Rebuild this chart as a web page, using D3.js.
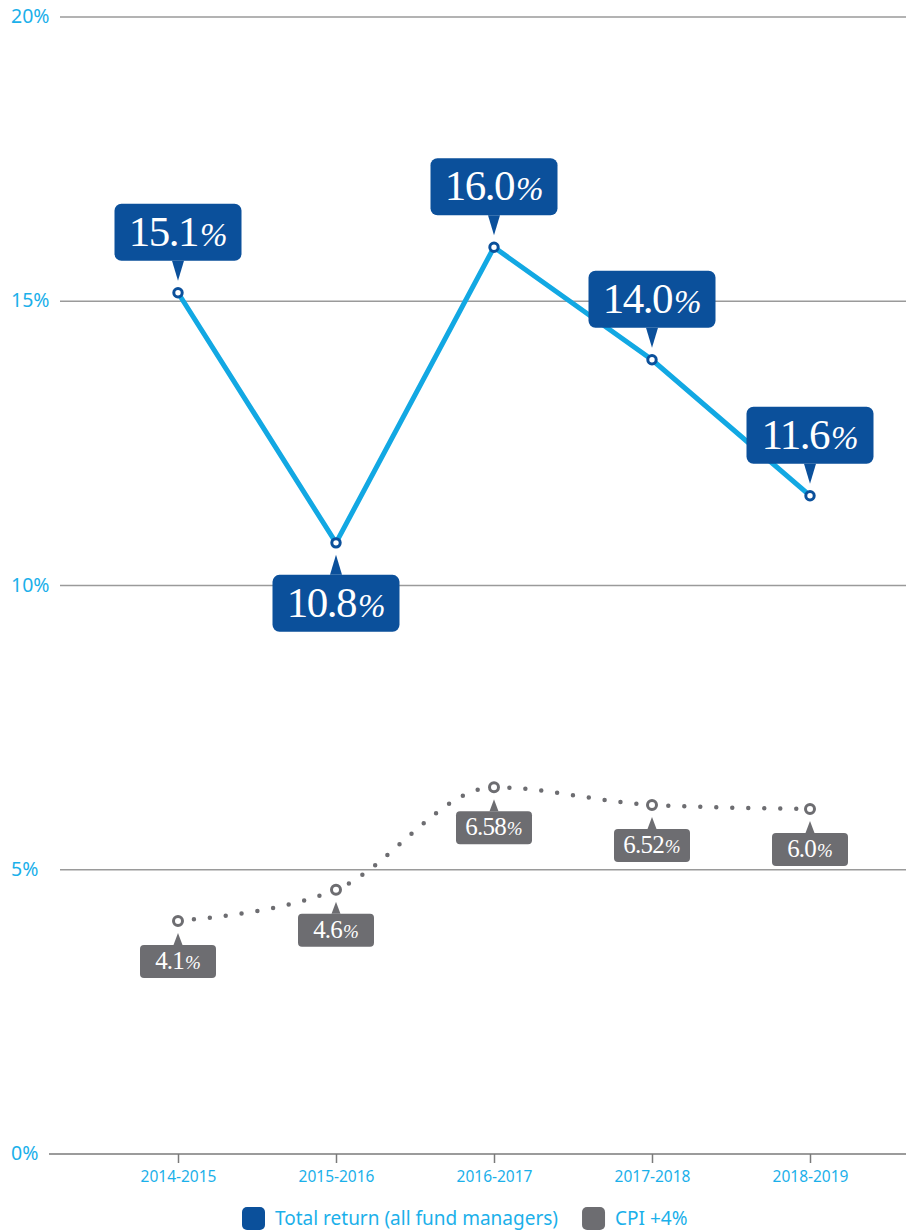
<!DOCTYPE html>
<html>
<head>
<meta charset="utf-8">
<script src="https://cdn.jsdelivr.net/npm/d3@7"></script>
<style>
  body { margin: 0; background: #fff; }
  svg { display: block; }
</style>
</head>
<body>
<div id="container"></div>
<script>
const width = 906
const height = 1232

// data
const categories = ['2014-2015', '2015-2016', '2016-2017', '2017-2018', '2018-2019']
const totalReturn = [15.15, 10.75, 15.95, 13.97, 11.58]
const totalLabels = ['15.1', '10.8', '16.0', '14.0', '11.6']
const totalSide = ['above', 'below', 'above', 'above', 'above']
const cpi = [4.1, 4.65, 6.45, 6.14, 6.07]
const cpiLabels = ['4.1', '4.6', '6.58', '6.52', '6.0']
const yTicks = [0, 5, 10, 15, 20]
const legendItems = ['Total return (all fund managers)', 'CPI +4%']

const lightBlue = '#12a8e3'
const darkBlue = '#0b509b'
const grey = '#6d6d71'
const textBlue = '#1bb0ea'

const svg = d3.select('div#container').append('svg')
    .attr('width', width)
    .attr('height', height)

//----------------------------SCALES----------------------------//
const xScale = d3.scalePoint().domain(categories).range([99, 889]).padding(0.5)
const yScale = d3.scaleLinear().domain([0, 20]).range([1154, 17])

//-----------------------------GRID-----------------------------//
svg.append('g')
    .selectAll('line')
    .data(yTicks.filter(d => d > 0))
    .enter()
    .append('line')
    .attr('x1', 60)
    .attr('x2', width)
    .attr('y1', d => yScale(d))
    .attr('y2', d => yScale(d))
    .attr('stroke', '#9a9a9a')
    .attr('stroke-width', 1.3)

svg.append('g')
    .selectAll('text')
    .data(yTicks)
    .enter()
    .append('text')
    .attr('x', 11)
    .attr('y', d => yScale(d) + 6)
    .attr('fill', textBlue)
    .style('font-family', 'Noto Sans, sans-serif')
    .style('font-size', '19.5px')
    .text(d => d + '%')

// x axis
const xaxis = d3.axisBottom(xScale).tickSize(9).tickPadding(8)
const gx = svg.append('g')
    .attr('transform', 'translate(0,' + yScale(0) + ')')
    .call(xaxis)
gx.select('.domain').remove()
gx.append('line')
    .attr('x1', 49)
    .attr('x2', width)
    .attr('stroke', '#7a7a7a')
    .attr('stroke-width', 1.5)
gx.selectAll('.tick line').attr('stroke', '#7a7a7a').attr('stroke-width', 1.5)
gx.selectAll('.tick text')
    .attr('fill', textBlue)
    .style('font-family', 'Noto Sans, sans-serif')
    .style('font-size', '15.5px')

//----------------------------LINES-----------------------------//
const line = d3.line()
    .x((d, i) => xScale(categories[i]))
    .y(d => yScale(d))

const curve = d3.line()
    .x((d, i) => xScale(categories[i]))
    .y(d => yScale(d))
    .curve(d3.curveMonotoneX)

svg.append('path')
    .attr('d', curve(cpi))
    .attr('fill', 'none')
    .attr('stroke', grey)
    .attr('stroke-width', 4.5)
    .attr('stroke-linecap', 'round')
    .attr('stroke-dasharray', '0 16')

svg.append('path')
    .attr('d', line(totalReturn))
    .attr('fill', 'none')
    .attr('stroke', lightBlue)
    .attr('stroke-width', 5)

//---------------------------MARKERS----------------------------//
svg.append('g')
    .selectAll('circle')
    .data(totalReturn)
    .enter()
    .append('circle')
    .attr('cx', (d, i) => xScale(categories[i]))
    .attr('cy', d => yScale(d))
    .attr('r', 4.2)
    .attr('fill', '#fff')
    .attr('stroke', darkBlue)
    .attr('stroke-width', 3)

svg.append('g')
    .selectAll('circle')
    .data(cpi)
    .enter()
    .append('circle')
    .attr('cx', (d, i) => xScale(categories[i]))
    .attr('cy', d => yScale(d))
    .attr('r', 4.5)
    .attr('fill', '#fff')
    .attr('stroke', grey)
    .attr('stroke-width', 3)

//---------------------------CALLOUTS---------------------------//
// rounded box with a little pointer toward the point
const callout = (g, cx, py, side, o) => {
    const dir = side === 'above' ? -1 : 1
    const tip = py + dir * o.gap
    const base = tip + dir * o.tri
    const top = side === 'above' ? base - o.h : base
    g.append('path')
        .attr('d', `M${cx - o.tw / 2},${base} L${cx},${tip} L${cx + o.tw / 2},${base} Z`)
        .attr('fill', o.color)
    g.append('rect')
        .attr('x', cx - o.w / 2)
        .attr('y', top)
        .attr('width', o.w)
        .attr('height', o.h)
        .attr('rx', o.rx)
        .attr('fill', o.color)
    return top
}

const blueOpts = { w: 127, h: 57, rx: 7, gap: 12, tri: 20, tw: 12, color: darkBlue }
const greyOpts = { w: 76, h: 33, rx: 4, gap: 12, tri: 12, tw: 9, color: grey }

totalReturn.forEach((v, i) => {
    const g = svg.append('g')
    const cx = xScale(categories[i])
    const top = callout(g, cx, yScale(v), totalSide[i], blueOpts)
    const t = g.append('text')
        .attr('x', cx)
        .attr('y', top + 42)
        .attr('text-anchor', 'middle')
        .attr('fill', '#fff')
        .style('font-family', 'Liberation Serif, serif')
    t.append('tspan').style('font-size', '43px').style('letter-spacing', '-1.5px').text(totalLabels[i])
    t.append('tspan').attr('dx', 2).style('font-size', '33px').style('font-style', 'italic').style('font-weight', 300).text('%')
})

cpi.forEach((v, i) => {
    const g = svg.append('g')
    const cx = xScale(categories[i])
    const top = callout(g, cx, yScale(v), 'below', greyOpts)
    const t = g.append('text')
        .attr('x', cx)
        .attr('y', top + 24)
        .attr('text-anchor', 'middle')
        .attr('fill', '#fff')
        .style('font-family', 'Liberation Serif, serif')
    t.append('tspan').style('font-size', '25px').style('letter-spacing', '-0.8px').text(cpiLabels[i])
    t.append('tspan').attr('dx', 1).style('font-size', '19px').style('font-style', 'italic').text('%')
})

//----------------------------LEGEND----------------------------//
const legend = svg.append('g').attr('transform', 'translate(242,1207)')
let lx = 0
legendItems.forEach((name, i) => {
    legend.append('rect')
        .attr('x', lx)
        .attr('y', 0)
        .attr('width', 23)
        .attr('height', 23)
        .attr('rx', 5)
        .attr('fill', i === 0 ? darkBlue : grey)
    const txt = legend.append('text')
        .attr('x', lx + 33)
        .attr('y', 18)
        .attr('fill', textBlue)
        .style('font-family', 'Noto Sans, sans-serif')
        .style('font-size', '19px')
        .text(name)
    lx += 33 + txt.node().getComputedTextLength() + 24
})
</script>
</body>
</html>
